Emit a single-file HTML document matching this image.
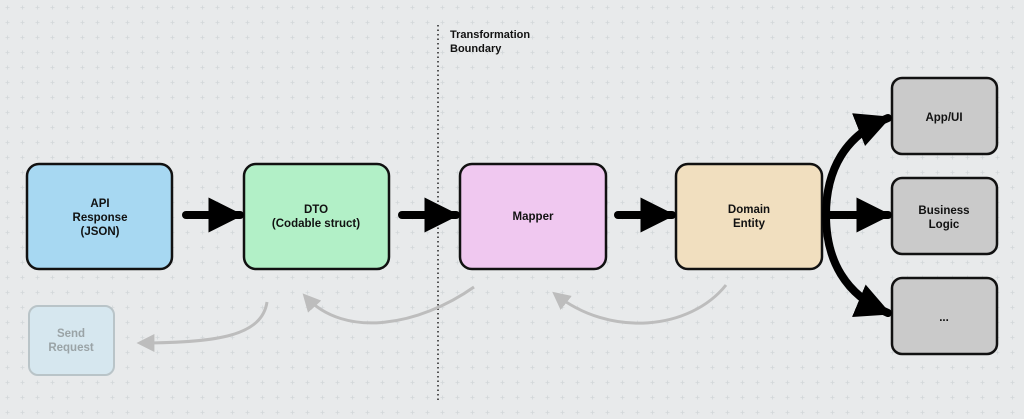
<!DOCTYPE html>
<html><head><style>
html,body{margin:0;padding:0;background:#e8eaeb;}
svg{display:block;font-family:"Liberation Sans",sans-serif;font-weight:bold;}
</style></head><body>
<svg width="1024" height="419" viewBox="0 0 1024 419" xmlns="http://www.w3.org/2000/svg">
<defs>
<pattern id="g" width="15" height="15" patternUnits="userSpaceOnUse">
<path d="M7.5 5.5v4M5.5 7.5h4" stroke="#d3d7da" stroke-width="0.8"/>
</pattern>
<marker id="ab" viewBox="0 0 10 10" refX="9" refY="5" markerWidth="4.4" markerHeight="4.4" orient="auto"><path d="M0 0L10 5L0 10z" fill="#000"/></marker>
<marker id="ag" viewBox="0 0 10 10" refX="8" refY="5" markerWidth="6" markerHeight="6" orient="auto"><path d="M0 0L10 5L0 10z" fill="#bdbdbd"/></marker>
</defs>
<rect width="1024" height="419" fill="#e8eaeb"/>
<rect width="1024" height="419" fill="url(#g)"/>
<line x1="438" y1="25" x2="438" y2="400" stroke="#222" stroke-width="1.5" stroke-dasharray="1.5 3"/>
<text x="450" y="38" font-size="11" fill="#111">Transformation</text>
<text x="450" y="52" font-size="11" fill="#111">Boundary</text>

<g stroke="#111" stroke-width="2.5">
<rect x="27" y="164" width="145" height="105" rx="12" fill="#a7d8f2"/>
<rect x="244" y="164" width="145" height="105" rx="12" fill="#b2f0c7"/>
<rect x="460" y="164" width="146" height="105" rx="12" fill="#f0c8f0"/>
<rect x="676" y="164" width="146" height="105" rx="12" fill="#f1dfbf"/>
<rect x="892" y="78" width="105" height="76" rx="10" fill="#cacaca"/>
<rect x="892" y="178" width="105" height="76" rx="10" fill="#cacaca"/>
<rect x="892" y="278" width="105" height="76" rx="10" fill="#cacaca"/>
</g>
<rect x="29" y="306" width="85" height="69" rx="9" fill="#d6e7ef" stroke="#b9c4c8" stroke-width="2"/>

<g font-size="11.5" fill="#111" text-anchor="middle">
<text x="100" y="207">API</text><text x="100" y="221">Response</text><text x="100" y="235">(JSON)</text>
<text x="316" y="213">DTO</text><text x="316" y="227">(Codable struct)</text>
<text x="533" y="220">Mapper</text>
<text x="749" y="213">Domain</text><text x="749" y="227">Entity</text>
<text x="944" y="121">App/UI</text>
<text x="944" y="214">Business</text><text x="944" y="228">Logic</text>
<text x="944" y="321">...</text>
<text x="71" y="337" fill="#9aa3a6">Send</text><text x="71" y="351" fill="#9aa3a6">Request</text>
</g>

<g stroke="#000" stroke-width="8" fill="none" stroke-linecap="round">
<path d="M186 215H240" marker-end="url(#ab)"/>
<path d="M402 215H456" marker-end="url(#ab)"/>
<path d="M618 215H672" marker-end="url(#ab)"/>
<path d="M826 215H888" marker-end="url(#ab)"/>
<path d="M826 215C826 170 845 135 888 118" marker-end="url(#ab)"/>
<path d="M826 215C826 260 845 295 888 313" marker-end="url(#ab)"/>
</g>
<g stroke="#bdbdbd" stroke-width="3" fill="none">
<path d="M267 302C262 335 220 343 140 343" marker-end="url(#ag)"/>
<path d="M474 287C420 325 345 340 305 296" marker-end="url(#ag)"/>
<path d="M726 285C690 330 610 338 555 294" marker-end="url(#ag)"/>
</g>
</svg>
</body></html>
